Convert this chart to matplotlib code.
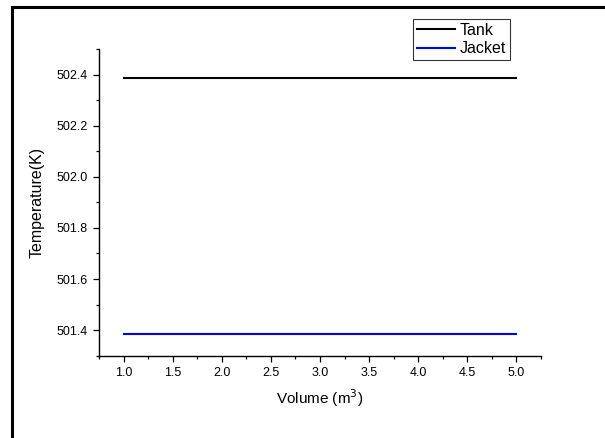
import matplotlib.pyplot as plt
from matplotlib.lines import Line2D
from matplotlib.ticker import MultipleLocator

plt.rcParams['font.family'] = ['Liberation Sans', 'DejaVu Sans']

# Volumen und Temperaturen
volume = [1.0, 2.0, 3.0, 4.0, 5.0]
t_tank = [502.387, 502.387, 502.387, 502.387, 502.387]
t_jacket = [501.386, 501.386, 501.386, 501.386, 501.386]

W, H = 605, 438
fig = plt.figure(figsize=(W / 100, H / 100), dpi=100)
ax = fig.add_axes([99 / W, (H - 355.7) / H, (541 - 99) / W, (355.7 - 49) / H])

ax.plot(volume, t_tank, color='black', lw=1.5, label='Tank')
ax.plot(volume, t_jacket, color='#0000ee', lw=1.5, label='Jacket')

ax.set_xlim(0.75, 5.25)
ax.set_ylim(501.3, 502.5)
ax.xaxis.set_major_locator(MultipleLocator(0.5))
ax.xaxis.set_minor_locator(MultipleLocator(0.25))
ax.yaxis.set_major_locator(MultipleLocator(0.2))
ax.yaxis.set_minor_locator(MultipleLocator(0.1))
ax.xaxis.set_major_formatter('{x:.1f}')
ax.yaxis.set_major_formatter('{x:.1f}')

for s in ('top', 'right'):
    ax.spines[s].set_visible(False)
for s in ('left', 'bottom'):
    ax.spines[s].set_linewidth(1.0)

ax.tick_params(which='major', direction='out', length=4, width=0.9,
               labelsize=9, pad=4, colors='black')
ax.tick_params(which='minor', direction='out', length=2.2, width=0.9)

ax.set_xlabel('Volume (m$^3$)', fontsize=11, labelpad=6)
ax.set_ylabel('Temperature(K)', fontsize=11.5, labelpad=9)

leg = ax.legend(loc='upper left', bbox_to_anchor=(412.7 / W, 1 - 19 / H),
                bbox_transform=fig.transFigure, borderaxespad=0,
                fancybox=False, frameon=True, edgecolor='black',
                fontsize=11.5, handlelength=2.4, handletextpad=0.3,
                borderpad=0.25, labelspacing=0.2)
leg.get_frame().set_linewidth(0.8)

# Rahmen oben und links
fig.add_artist(Line2D([12 / W, 12 / W], [0, 1 - 7 / H], color='black', lw=2.2,
                      transform=fig.transFigure, solid_capstyle='projecting'))
fig.add_artist(Line2D([12 / W, 1], [1 - 7 / H, 1 - 7 / H], color='black', lw=2.2,
                      transform=fig.transFigure, solid_capstyle='projecting'))

fig.savefig('out.png', dpi=100)
